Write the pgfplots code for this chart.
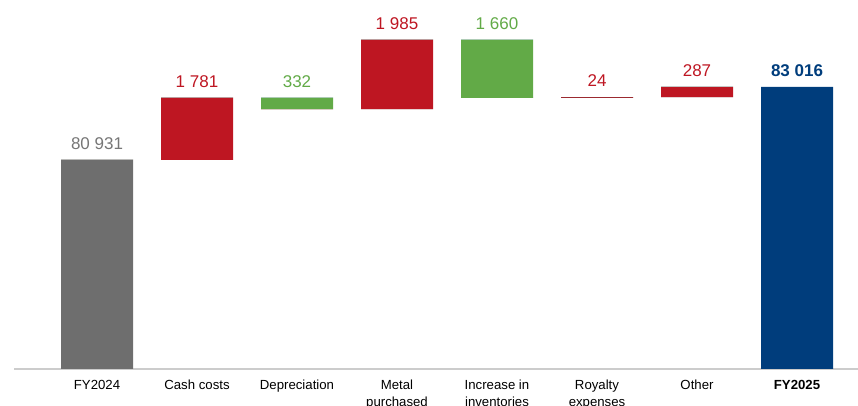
\documentclass[border=0pt]{standalone}
\usepackage{pgfplots}
\pgfplotsset{compat=1.18}
\usepackage{fontspec}
\setmainfont{Liberation Sans}
\definecolor{cgray}{HTML}{6E6E6E}
\definecolor{lgray}{HTML}{767676}
\definecolor{cred}{HTML}{BE1622}
\definecolor{cgreen}{HTML}{62AA47}
\definecolor{cblue}{HTML}{003D7C}

\begin{document}
\begin{tikzpicture}
\begin{axis}[
    at={(0,0)}, anchor=south west,
    scale only axis, width=633pt, height=276.75pt,
    ybar, bar width=0.72, bar shift=0pt,
    xmin=-0.83, xmax=7.61, ymin=74960, ymax=85500,
    axis x line=bottom, hide y axis,
    x axis line style={-, draw=gray!40, line width=1.5pt},
    xtick={0,...,7}, major tick length=0pt,
    xticklabels={{FY2024}, {Cash costs}, {Depreciation}, {Metal\\purchased},
                 {Increase in\\inventories}, {Royalty\\expenses}, {Other}, {\textbf{FY2025}}},
    xticklabel style={align=center, anchor=north, inner sep=0pt, yshift=-8.25pt,
                      font=\fontsize{9.9}{12.7}\selectfont},
    clip=false,
    step/.style={stack plots=y, draw=none, fill=#1},
    labels/.style={sharp plot, draw=none, mark=none,
        point meta=explicit symbolic, nodes near coords,
        every node near coord/.append style={font=\fontsize{12.75}{14}\selectfont,
            anchor=south, inner sep=0pt, yshift=7.5pt, text=#1}},
]
    % invisible base of each floating bar
    \addplot[stack plots=y, draw=none, fill=none] coordinates {
        (0,74960) (1,80931) (2,82380) (3,82380) (4,82705) (5,82705) (6,82729) (7,74960)};
    % FY2024
    \addplot[step=cgray] coordinates {
        (0,5971) (1,0) (2,0) (3,0) (4,0) (5,0) (6,0) (7,0)};
    % increases
    \addplot[step=cred] coordinates {
        (0,0) (1,1781) (2,0) (3,1985) (4,0) (5,24) (6,287) (7,0)};
    % decreases
    \addplot[step=cgreen] coordinates {
        (0,0) (1,0) (2,332) (3,0) (4,1660) (5,0) (6,0) (7,0)};
    % FY2025
    \addplot[step=cblue] coordinates {
        (0,0) (1,0) (2,0) (3,0) (4,0) (5,0) (6,0) (7,8056)};

    % value labels above each bar
    \addplot[labels=lgray] coordinates {(0,80931)[80 931]};
    \addplot[labels=cred] coordinates {(1,82712)[1 781] (3,84365)[1 985] (5,82729)[24] (6,83016)[287]};
    \addplot[labels=cgreen] coordinates {(2,82712)[332] (4,84365)[1 660]};
    \addplot[labels=cblue, every node near coord/.append style={font=\fontsize{12.75}{14}\selectfont\bfseries}]
        coordinates {(7,83016)[83 016]};
\end{axis}
\pgfresetboundingbox
\path[use as bounding box] (-10.5pt,-27.75pt) rectangle (633pt,276.75pt);
\end{tikzpicture}
\end{document}
